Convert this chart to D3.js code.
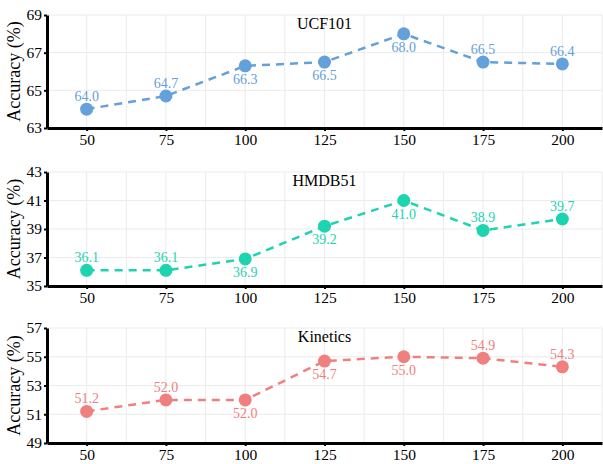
<!DOCTYPE html>
<html>
<head>
<meta charset="utf-8">
<script src="https://cdn.jsdelivr.net/npm/d3@7"></script>
<style>
  body { margin: 0; background: #fff; }
  text { font-family: "Liberation Serif", "Times New Roman", serif; }
</style>
</head>
<body>
<script>
// sample counts on the x axis
var steps = [50, 75, 100, 125, 150, 175, 200];

// accuracy per dataset
var ucf = [64.0, 64.7, 66.3, 66.5, 68.0, 66.5, 66.4];
var hmdb = [36.1, 36.1, 36.9, 39.2, 41.0, 38.9, 39.7];
var kinetics = [51.2, 52.0, 52.0, 54.7, 55.0, 54.9, 54.3];

// y ticks per panel
var ucfTicks = [63, 65, 67, 69];
var hmdbTicks = [35, 37, 39, 41, 43];
var kinTicks = [49, 51, 53, 55, 57];

// where each value label sits (1 = above point, -1 = below)
var labelSide = [1, 1, -1, -1, -1, 1, 1];

var panels = [
  {name: "UCF101", vals: ucf, ticks: ucfTicks, color: "#64a0d9", top: 15, bottom: 128},
  {name: "HMDB51", vals: hmdb, ticks: hmdbTicks, color: "#1ed4b0", top: 172, bottom: 286},
  {name: "Kinetics", vals: kinetics, ticks: kinTicks, color: "#f08080", top: 328, bottom: 443}
];

var W = 603, H = 464, left = 47, right = 602;

var svg = d3.select("body").append("svg")
  .attr("width", W)
  .attr("height", H);

var x = d3.scaleLinear().domain([37.5, 212.5]).range([left, right]);
var gridX = d3.range(37.5, 212.6, 12.5);

panels.forEach(function(p) {
  var y = d3.scaleLinear()
    .domain([p.ticks[0], p.ticks[p.ticks.length - 1]])
    .range([p.bottom, p.top]);

  var g = svg.append("g");

  // grid
  g.selectAll(".vg").data(gridX).enter().append("line")
    .attr("x1", function(d) { return x(d); })
    .attr("x2", function(d) { return x(d); })
    .attr("y1", p.top).attr("y2", p.bottom)
    .attr("stroke", "#ebebeb").attr("stroke-width", 1);
  g.selectAll(".hg").data(p.ticks).enter().append("line")
    .attr("x1", left).attr("x2", right)
    .attr("y1", function(d) { return y(d); })
    .attr("y2", function(d) { return y(d); })
    .attr("stroke", "#ebebeb").attr("stroke-width", 1);

  // axes
  var ya = g.append("g")
    .attr("transform", "translate(" + left + ",0)")
    .call(d3.axisLeft(y).tickValues(p.ticks).tickFormat(d3.format("d"))
      .tickSize(3).tickSizeOuter(0).tickPadding(2));
  var xa = g.append("g")
    .attr("transform", "translate(0," + p.bottom + ")")
    .call(d3.axisBottom(x).tickValues(steps).tickSize(3).tickSizeOuter(0).tickPadding(3));

  [ya, xa].forEach(function(a) {
    a.select(".domain").attr("stroke", "#000").attr("stroke-width", 3);
    a.selectAll(".tick line").attr("stroke", "#000").attr("stroke-width", 2);
    a.selectAll(".tick text")
      .attr("fill", "#000")
      .style("font-size", "15.5px")
      .style("font-family", "'Liberation Serif', serif");
  });

  // y label
  g.append("text")
    .attr("transform", "translate(" + 20 + "," + ((p.top + p.bottom) / 2) + ") rotate(-90)")
    .attr("text-anchor", "middle")
    .style("font-size", "18px")
    .text("Accuracy (%)");

  // title
  g.append("text")
    .attr("x", (left + right) / 2)
    .attr("y", p.top + 14)
    .attr("text-anchor", "middle")
    .style("font-size", "16px")
    .text(p.name);

  var pts = steps.map(function(s, i) { return [s, p.vals[i]]; });

  var line = d3.line()
    .x(function(d) { return x(d[0]); })
    .y(function(d) { return y(d[1]); });

  g.append("path")
    .datum(pts)
    .attr("d", line)
    .attr("fill", "none")
    .attr("stroke", p.color)
    .attr("stroke-width", 2.5)
    .attr("stroke-dasharray", "8,6");

  g.selectAll(".dot").data(pts).enter().append("circle")
    .attr("cx", function(d) { return x(d[0]); })
    .attr("cy", function(d) { return y(d[1]); })
    .attr("r", 6.5)
    .attr("fill", p.color);

  g.selectAll(".lab").data(pts).enter().append("text")
    .attr("x", function(d) { return x(d[0]); })
    .attr("y", function(d, i) { return y(d[1]) + (labelSide[i] > 0 ? -8 : 18); })
    .attr("text-anchor", "middle")
    .attr("fill", p.color)
    .style("font-size", "14px")
    .text(function(d) { return d[1].toFixed(1); });
});
</script>
</body>
</html>
